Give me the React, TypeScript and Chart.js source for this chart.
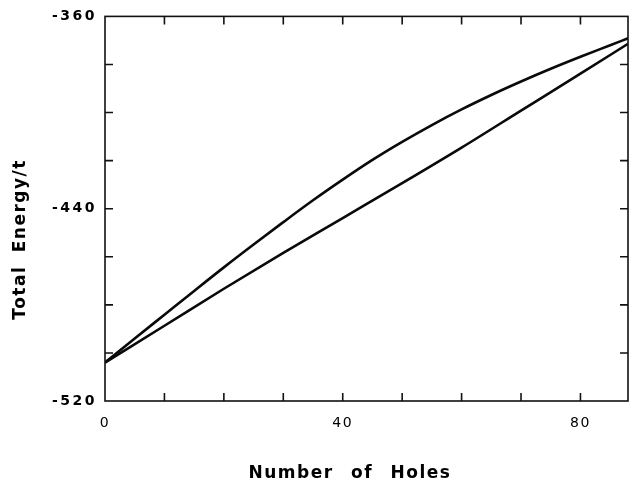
import React, { useEffect, useRef } from 'react';
import { Chart, registerables } from 'chart.js';

Chart.register(...registerables);

// Number of holes sampled along each curve
const upperHoles = [0, 5, 10, 15, 20, 25, 30, 35, 40, 45, 50, 55, 60, 65, 70, 75, 80, 85, 88];
const upperEnergy = [
  -504, -494, -484.1, -474.2, -464.4, -454.9, -445.6, -436.5, -427.9, -419.7,
  -412.2, -405.2, -398.7, -392.7, -387.1, -381.8, -376.8, -372, -369.1,
];

const lowerHoles = [0, 10, 20, 30, 40, 50, 60, 70, 80, 88];
const lowerEnergy = [-504, -488.7, -473.3, -458.4, -443.9, -429.4, -414.6, -399.2, -383.8, -371.4];

// Labelled tick values
const xTickLabels = [0, 40, 80];
const yTickLabels = [-520, -440, -360];

const xTitle = 'Number of Holes';
const yTitle = 'Total Energy/t';

const toPoints = (xs: number[], ys: number[]) => xs.map((x, i) => ({ x, y: ys[i] }));

// Spread the tick label glyphs of a scale a little
const spaceLabels = (scale: any, spacing: string) => {
  if (scale.__spaced) return;
  const orig = scale.drawLabels;
  scale.drawLabels = function (area: any) {
    const c = this.ctx;
    c.save();
    c.letterSpacing = spacing;
    orig.call(this, area);
    c.restore();
  };
  scale.__spaced = true;
};

// Box frame with inward tick marks on all four sides, plus axis titles
const framePlugin = {
  id: 'boxFrame',
  beforeDraw(chart: any) {
    spaceLabels(chart.scales.x, '1.5px');
    spaceLabels(chart.scales.y, '2.5px');
  },
  afterDraw(chart: any) {
    const { ctx, chartArea, scales } = chart;
    const { left, right, top, bottom } = chartArea;
    const xs = scales.x;
    const ys = scales.y;
    ctx.save();
    ctx.strokeStyle = '#111';
    ctx.lineWidth = 1.6;
    ctx.strokeRect(left, top, right - left, bottom - top);
    const len = 8;
    ctx.beginPath();
    xs.ticks.forEach((t: any) => {
      const px = xs.getPixelForValue(t.value);
      if (px <= left + 1 || px >= right - 1) return;
      ctx.moveTo(px, bottom);
      ctx.lineTo(px, bottom - len);
      ctx.moveTo(px, top);
      ctx.lineTo(px, top + len);
    });
    ys.ticks.forEach((t: any) => {
      const py = ys.getPixelForValue(t.value);
      if (py <= top + 1 || py >= bottom - 1) return;
      ctx.moveTo(left, py);
      ctx.lineTo(left + len, py);
      ctx.moveTo(right, py);
      ctx.lineTo(right - len, py);
    });
    ctx.stroke();

    ctx.fillStyle = '#000';
    ctx.letterSpacing = '1.5px';
    ctx.wordSpacing = '10px';
    ctx.font = 'bold 17px "DejaVu Sans"';
    ctx.textAlign = 'center';
    ctx.textBaseline = 'middle';
    ctx.fillText(xTitle, left + 245, 474);

    ctx.wordSpacing = '6px';
    ctx.translate(21, top + 223);
    ctx.rotate(-Math.PI / 2);
    ctx.fillText(yTitle, 0, 0);
    ctx.restore();
  },
};

export default function App() {
  const canvasRef = useRef<HTMLCanvasElement | null>(null);

  useEffect(() => {
    const canvas = canvasRef.current;
    if (!canvas) return;
    const chart = new Chart(canvas, {
      type: 'line',
      data: {
        datasets: [
          {
            data: toPoints(upperHoles, upperEnergy),
            borderColor: '#0a0a0a',
            borderWidth: 2.6,
            pointRadius: 0,
            cubicInterpolationMode: 'monotone',
            fill: false,
          },
          {
            data: toPoints(lowerHoles, lowerEnergy),
            borderColor: '#0a0a0a',
            borderWidth: 2.6,
            pointRadius: 0,
            cubicInterpolationMode: 'monotone',
            fill: false,
          },
        ],
      },
      options: {
        animation: false,
        responsive: false,
        events: [],
        layout: { padding: { left: 0, right: 4, top: 13, bottom: 0 } },
        plugins: {
          legend: { display: false },
          tooltip: { enabled: false },
          title: { display: false },
        },
        scales: {
          x: {
            type: 'linear',
            min: 0,
            max: 88,
            grid: { display: false, drawTicks: false },
            border: { display: false },
            afterFit: (s: any) => {
              s.height = 85;
            },
            ticks: {
              stepSize: 10,
              autoSkip: false,
              maxRotation: 0,
              padding: 14,
              color: '#000',
              font: { family: '"DejaVu Sans"', size: 14 },
              callback: (v: any) => (xTickLabels.includes(Number(v)) ? String(v) : ''),
            },
          },
          y: {
            type: 'linear',
            min: -520,
            max: -360,
            grid: { display: false, drawTicks: false },
            border: { display: false },
            afterFit: (s: any) => {
              s.width = 105;
            },
            ticks: {
              stepSize: 20,
              autoSkip: false,
              padding: 8,
              color: '#000',
              font: { family: '"DejaVu Sans"', size: 14, weight: 'bold' },
              callback: (v: any) => (yTickLabels.includes(Number(v)) ? String(v) : ''),
            },
          },
        },
      },
      plugins: [framePlugin],
    } as any);
    return () => chart.destroy();
  }, []);

  return (
    <div style={{ position: 'fixed', left: 0, top: 0, width: 642, height: 486, background: '#fff' }}>
      <canvas ref={canvasRef} width={642} height={486} style={{ display: 'block' }} />
    </div>
  );
}
